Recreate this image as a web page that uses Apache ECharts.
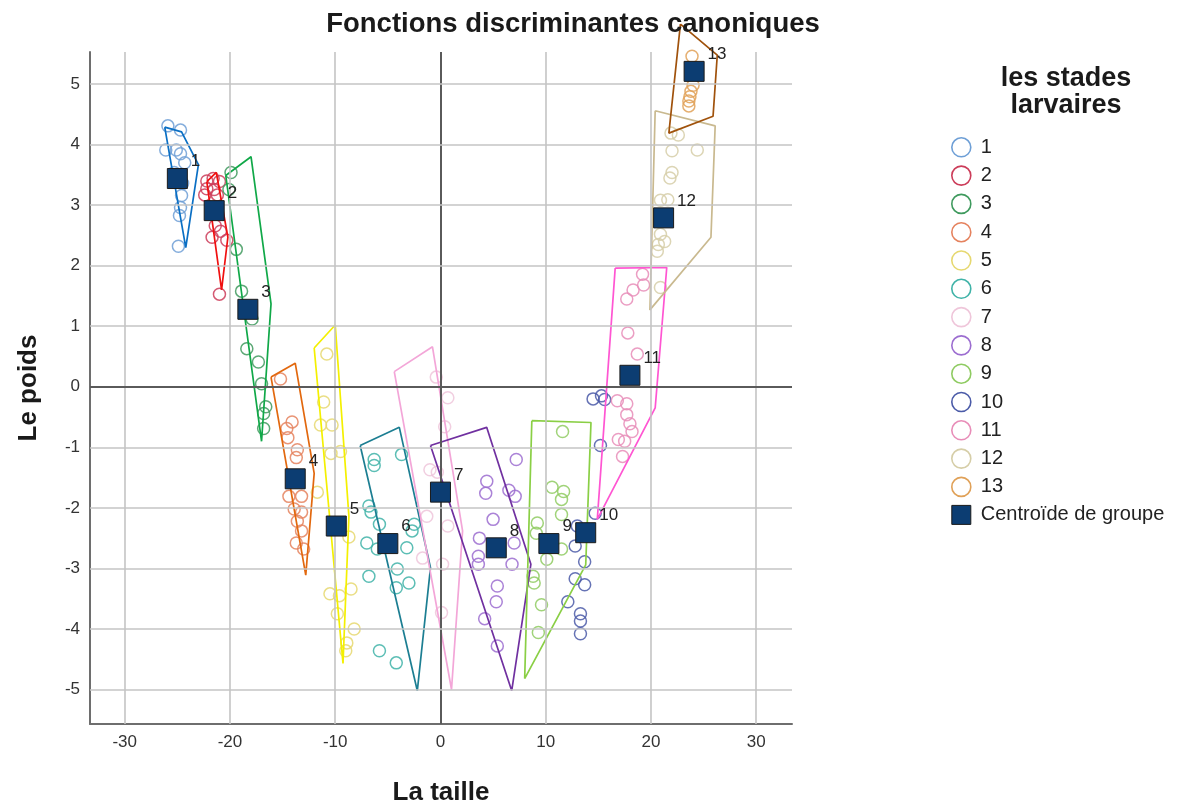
<!DOCTYPE html>
<html>
<head>
<meta charset="utf-8">
<script src="https://cdn.jsdelivr.net/npm/echarts@6/dist/echarts.min.js"></script>
<style>
html,body{margin:0;padding:0;background:#fff;}
#chart{width:1200px;height:811px;}
</style>
</head>
<body>
<div id="chart"></div>
<script>
// ---- tick labels ----
const xTicks = [-30, -20, -10, 0, 10, 20, 30];
const yTicks = [-5, -4, -3, -2, -1, 0, 1, 2, 3, 4, 5];

// ---- group names ----
const groups = ['1','2','3','4','5','6','7','8','9','10','11','12','13'];

// ---- observed points per group [taille, poids] ----
const g1 = [[-25.9,4.31],[-24.7,4.24],[-26.1,3.91],[-25.1,3.91],[-24.7,3.85],[-24.3,3.70],[-25.3,3.54],[-24.5,3.36],[-24.6,3.16],[-24.7,2.96],[-24.8,2.83],[-24.9,2.32]];
const g2 = [[-22.2,3.40],[-21.6,3.44],[-21.0,3.39],[-22.2,3.27],[-21.5,3.26],[-22.4,3.17],[-21.2,3.17],[-21.4,2.66],[-21.7,2.47],[-20.9,2.57],[-20.3,2.42],[-21.0,1.53]];
const g3 = [[-19.9,3.54],[-20.1,3.26],[-19.4,2.27],[-18.9,1.58],[-17.9,1.12],[-18.4,0.63],[-17.3,0.41],[-17.0,0.05],[-16.6,-0.33],[-16.8,-0.44],[-16.8,-0.69]];
const g4 = [[-15.2,0.13],[-14.1,-0.58],[-14.6,-0.69],[-14.5,-0.84],[-13.6,-1.04],[-13.7,-1.17],[-14.4,-1.81],[-13.2,-1.81],[-13.9,-2.02],[-13.2,-2.07],[-13.6,-2.22],[-13.2,-2.38],[-13.7,-2.58],[-13.0,-2.68]];
const g5 = [[-10.8,0.54],[-11.1,-0.25],[-11.4,-0.63],[-10.3,-0.63],[-10.4,-1.10],[-9.5,-1.07],[-11.7,-1.74],[-8.7,-2.48],[-10.5,-3.42],[-9.6,-3.45],[-8.5,-3.34],[-9.8,-3.75],[-8.2,-4.00],[-8.9,-4.23],[-9.0,-4.36]];
const g6 = [[-6.3,-1.20],[-6.3,-1.30],[-3.7,-1.12],[-6.8,-1.97],[-6.6,-2.07],[-5.8,-2.27],[-7.0,-2.58],[-6.0,-2.68],[-3.2,-2.66],[-2.5,-2.27],[-2.7,-2.38],[-4.1,-3.01],[-3.0,-3.24],[-4.2,-3.32],[-6.8,-3.13],[-5.8,-4.36],[-4.2,-4.56]];
const g7 = [[-0.4,0.16],[0.7,-0.18],[0.4,-0.66],[-1.0,-1.37],[-0.3,-1.41],[-1.3,-2.14],[0.7,-2.30],[-1.7,-2.83],[0.2,-2.93],[0.1,-3.73]];
const g8 = [[7.2,-1.20],[4.4,-1.56],[4.3,-1.76],[6.5,-1.71],[7.1,-1.81],[5.0,-2.19],[3.7,-2.50],[7.0,-2.58],[3.6,-2.80],[3.6,-2.93],[6.8,-2.93],[5.4,-3.29],[5.3,-3.55],[4.2,-3.83],[5.4,-4.28]];
const g9 = [[11.6,-0.74],[10.6,-1.66],[11.7,-1.73],[11.5,-1.86],[11.5,-2.11],[9.2,-2.25],[9.1,-2.42],[11.5,-2.68],[10.1,-2.85],[8.8,-3.13],[8.9,-3.24],[9.6,-3.60],[9.3,-4.06]];
const g10 = [[14.5,-0.20],[15.3,-0.15],[15.6,-0.21],[15.2,-0.97],[14.7,-2.09],[13.0,-2.30],[12.8,-2.63],[13.7,-2.89],[12.8,-3.17],[13.7,-3.27],[12.1,-3.55],[13.3,-3.75],[13.3,-3.87],[13.3,-4.08]];
const g11 = [[19.2,1.86],[19.3,1.68],[18.3,1.60],[17.7,1.45],[17.8,0.89],[18.7,0.54],[16.8,-0.23],[17.7,-0.28],[17.7,-0.46],[18.0,-0.61],[18.2,-0.74],[16.9,-0.87],[17.5,-0.90],[17.3,-1.15]];
const g12 = [[21.9,4.19],[22.6,4.16],[22.0,3.90],[24.4,3.91],[22.0,3.54],[21.8,3.45],[20.9,3.08],[21.6,3.09],[20.9,2.52],[21.3,2.40],[20.7,2.35],[20.6,2.24],[20.9,1.64]];
const g13 = [[24.0,5.56],[24.5,5.54],[23.9,5.46],[24.0,4.98],[23.8,4.88],[23.7,4.79],[23.6,4.72],[23.6,4.64]];
const groupPoints = [g1,g2,g3,g4,g5,g6,g7,g8,g9,g10,g11,g12,g13];

// ---- group centroids ----
const centroidX = [-25.0,-21.5,-18.3,-13.8,-9.9,-5.0,0.0,5.3,10.3,13.8,18.0,21.2,24.1];
const centroidY = [3.44,2.91,1.28,-1.52,-2.30,-2.59,-1.74,-2.66,-2.59,-2.41,0.19,2.79,5.21];

// ---- group envelopes (hull vertices) ----
const hull1 = [[-26.2,4.29],[-24.6,4.21],[-23.0,3.67],[-24.2,2.30]];
const hull2 = [[-22.2,3.39],[-21.3,3.54],[-20.2,2.47],[-20.8,1.60]];
const hull3 = [[-20.4,3.49],[-18.0,3.80],[-16.1,1.37],[-17.0,-0.90]];
const hull4 = [[-16.1,0.16],[-13.8,0.39],[-12.0,-1.43],[-12.8,-3.11]];
const hull5 = [[-12.0,0.64],[-10.0,1.02],[-8.7,-2.14],[-9.26,-4.57]];
const hull6 = [[-7.63,-0.97],[-3.91,-0.67],[-0.95,-2.99],[-2.2,-5.02]];
const hull7 = [[-4.39,0.25],[-0.76,0.66],[2.1,-2.38],[1.05,-5.0]];
const hull8 = [[-0.95,-0.97],[4.39,-0.67],[8.59,-2.93],[6.77,-5.02]];
const hull9 = [[8.68,-0.56],[14.3,-0.59],[13.8,-2.94],[8.0,-4.82]];
const hull11 = [[16.6,1.96],[21.5,1.97],[20.4,-0.35],[14.9,-2.19]];
const hull12 = [[20.4,4.56],[26.1,4.31],[25.7,2.47],[19.9,1.27]];
const hull13 = [[22.8,5.99],[26.3,5.48],[25.9,4.47],[21.7,4.19]];
const hulls = {'1':hull1,'2':hull2,'3':hull3,'4':hull4,'5':hull5,'6':hull6,'7':hull7,'8':hull8,'9':hull9,'11':hull11,'12':hull12,'13':hull13};

// ---- colours ----
const pointColors = ['#6E9FD6','#CC3D5A','#3F9A5E','#E5825E','#E6D870','#40B3A8','#EFC6DA','#9C6DD0','#8FCB62','#4B5BA8','#E88DB8','#D6CEA8','#E0A158'];
const hullColors = {'1':'#0A6FC4','2':'#F01010','3':'#10A848','4':'#E2680E','5':'#F4F000','6':'#1C7E92','7':'#F3A6D8','8':'#7030A0','9':'#8ACF45','11':'#FF55D2','12':'#C9B98F','13':'#A0520C'};
const centroidColor = '#0C3D72';

const FONT = '"Liberation Sans", Arial, sans-serif';

const series = [];

// grid lines drawn from tick arrays
series.push({
  type: 'line', name: '__grid', data: [], silent: true, z: 1,
  markLine: {
    silent: true, symbol: ['none','none'], label: {show:false},
    animation: false,
    data: xTicks.map(v => ({xAxis: v, lineStyle: {color: v === 0 ? '#5A5A5A' : '#C4C4C4', width: v === 0 ? 2 : 1.6, type: 'solid'}}))
      .concat(yTicks.map(v => ({yAxis: v, lineStyle: {color: v === 0 ? '#5A5A5A' : '#C4C4C4', width: v === 0 ? 2 : 1.6, type: 'solid'}})))
  }
});

groups.forEach((g, i) => {
  series.push({
    type: 'scatter', name: g, data: groupPoints[i], symbol: 'circle', symbolSize: 12, z: 3,
    itemStyle: {color: 'rgba(255,255,255,0)', borderColor: pointColors[i], borderWidth: 1.5, opacity: 0.85}
  });
});

Object.keys(hulls).forEach(g => {
  const h = hulls[g];
  series.push({
    type: 'line', name: 'hull' + g, data: h.concat([h[0]]), symbol: 'none', clip: false, z: 4,
    lineStyle: {color: hullColors[g], width: 1.7}, silent: true
  });
});

series.push({
  type: 'scatter', name: 'Centroïde de groupe', symbol: 'rect', symbolSize: 20, z: 6,
  data: centroidX.map((x, i) => ({name: groups[i], value: [x, centroidY[i]]})),
  itemStyle: {color: centroidColor, borderColor: '#1A1A1A', borderWidth: 1, opacity: 1},
  label: {show: true, position: 'right', distance: 3, offset: [0, -17], formatter: p => p.name,
    fontFamily: FONT, fontSize: 17, color: '#222'}
});

const legendData = groups.map((g, i) => ({
  name: g, icon: 'circle',
  itemStyle: {color: 'rgba(255,255,255,0)', borderColor: pointColors[i], borderWidth: 1.6, opacity: 1}
})).concat([{name: 'Centroïde de groupe', icon: 'rect', itemStyle: {color: centroidColor, borderColor: '#1A1A1A', borderWidth: 1, opacity: 1}}]);

const chart = echarts.init(document.getElementById('chart'), null, {renderer: 'canvas'});
chart.setOption({
  backgroundColor: '#fff',
  animation: false,
  title: [
    {text: 'Fonctions discriminantes canoniques', left: 568, top: 5, textAlign: 'center',
     textStyle: {fontFamily: FONT, fontSize: 27.5, fontWeight: 'bold', color: '#1A1A1A'}},
    {text: 'les stades\nlarvaires', left: 1061, top: 60, textAlign: 'center',
     textStyle: {fontFamily: FONT, fontSize: 27, fontWeight: 'bold', color: '#1A1A1A', lineHeight: 27}}
  ],
  legend: {
    orient: 'vertical', left: 946, top: 132, itemWidth: 19, itemHeight: 19, itemGap: 7.7,
    data: legendData, selectedMode: false,
    textStyle: {fontFamily: FONT, fontSize: 20, color: '#222', padding: [0,0,0,5]}
  },
  grid: {left: 90, right: 408, top: 52, bottom: 82, containLabel: false},
  xAxis: {
    type: 'value', min: -33.3, max: 33.4,
    name: 'La taille', nameLocation: 'middle', nameGap: 56,
    nameTextStyle: {fontFamily: FONT, fontSize: 26, fontWeight: 'bold', color: '#1A1A1A'},
    axisLine: {show: true, onZero: false, lineStyle: {color: '#6E6E6E', width: 2}},
    axisTick: {show: false, customValues: xTicks},
    axisLabel: {customValues: xTicks, fontFamily: FONT, fontSize: 17, color: '#333', margin: 10},
    splitLine: {show: false}
  },
  yAxis: {
    type: 'value', min: -5.57, max: 5.53,
    name: 'Le poids', nameLocation: 'middle', nameGap: 48, nameRotate: 90,
    nameTextStyle: {fontFamily: FONT, fontSize: 26, fontWeight: 'bold', color: '#1A1A1A'},
    axisLine: {show: true, onZero: false, lineStyle: {color: '#6E6E6E', width: 2}},
    axisTick: {show: false, customValues: yTicks},
    axisLabel: {customValues: yTicks, fontFamily: FONT, fontSize: 17, color: '#333', margin: 10},
    splitLine: {show: false}
  },
  series: series
});
</script>
</body>
</html>
